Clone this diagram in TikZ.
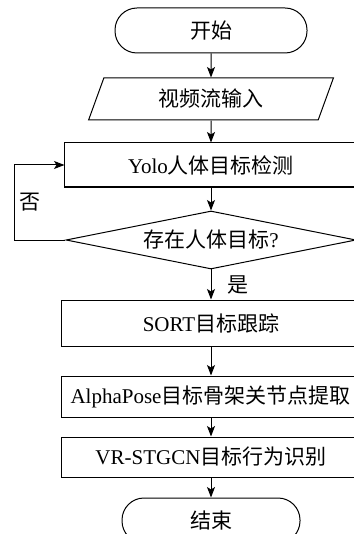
\documentclass[tikz,border=0pt]{standalone}
\usepackage{fontspec}
\setmainfont{Liberation Serif}
\newfontfamily\cjk{Noto Sans CJK SC}
\usetikzlibrary{shapes.geometric,arrows.meta}
\begin{document}
\begin{tikzpicture}[x=1bp,y=-1bp, line width=1bp,
  every node/.style={font=\fontsize{21bp}{24bp}\selectfont, inner sep=0},
  term/.style={draw, rounded corners=22bp, minimum height=45bp},
  box/.style={draw, rectangle},
  arr/.style={-{Stealth[length=10.5bp,width=8bp,inset=2.5bp]}},
]
\fill[white] (0,0) rectangle (353,534);
\useasboundingbox (0,0) rectangle (353,534);
\node[term, minimum width=192bp] (start) at (211,30.5) {\cjk 开始};
\node[draw, trapezium, trapezium left angle=69, trapezium right angle=111, trapezium stretches=true, minimum width=245bp, minimum height=42bp] (input) at (211,99) {\cjk 视频流输入};
\node[box, minimum width=292bp, minimum height=44bp] (yolo) at (211,165) {Yolo{\cjk 人体目标检测}};
\node[draw, diamond, aspect=5, minimum width=290bp, minimum height=58bp] (dec) at (211,240) {{\cjk 存在人体目标}?};
\node[box, minimum width=298bp, minimum height=46bp] (sort) at (211,323) {SORT{\cjk 目标跟踪}};
\node[box, minimum width=298bp, minimum height=41bp] (alpha) at (211,396.5) {};
\node[anchor=west] (alphatext) at (70,396.5) {AlphaPose{\cjk 目标骨架关节点提取}};
\node[box, minimum width=298bp, minimum height=40bp] (vr) at (211,457) {VR-STGCN{\cjk 目标行为识别}};
\node[term, minimum width=178bp] (end) at (211,520.5) {\cjk 结束};
\draw[arr] (start) -- (input);
\draw[arr] (input) -- (yolo);
\draw[arr] (yolo) -- (dec);
\draw[arr] (dec) -- node[midway, right=16bp] (yes) {\cjk 是} (sort);
\draw[arr] (sort) -- (alpha);
\draw[arr] (alpha) -- (vr);
\draw[arr] (vr) -- (end);
\draw[arr] (dec.west) -- ++(-51,0) coordinate (c1) |- node[pos=0.25, right=4.5bp] (no) {\cjk 否} (yolo.west);
\end{tikzpicture}
\end{document}
